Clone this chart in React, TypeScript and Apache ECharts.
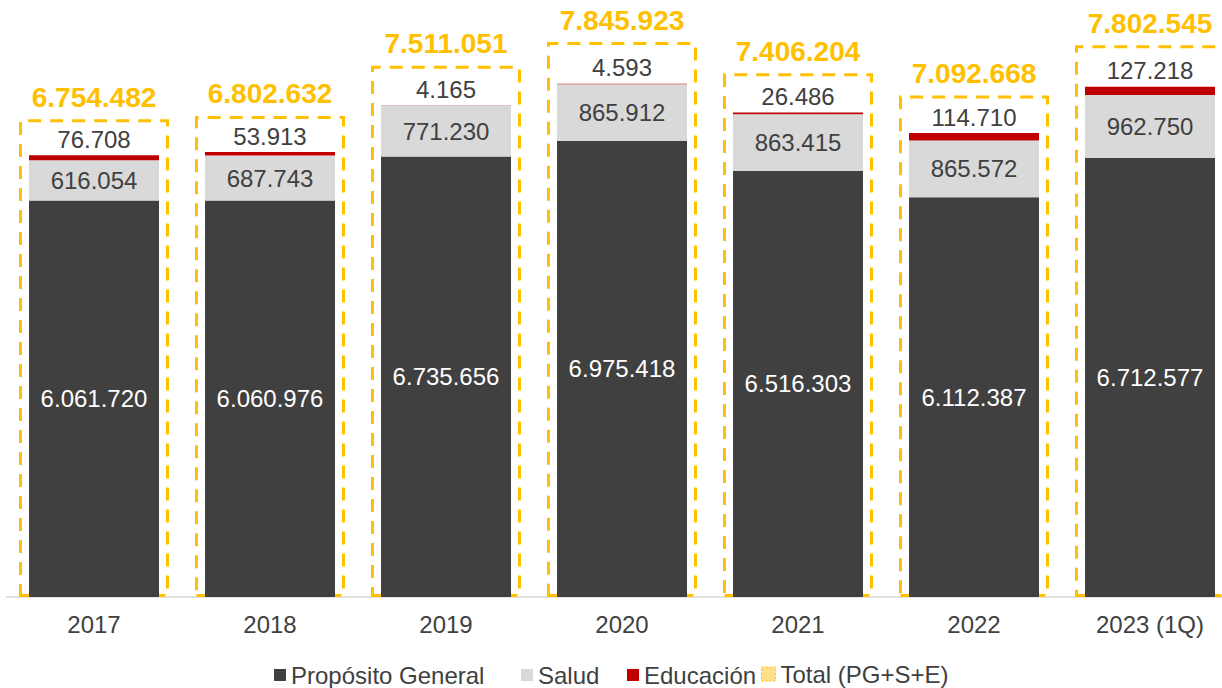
import React, { useEffect, useRef } from 'react';
import * as echarts from 'echarts';

const categories = ['2017', '2018', '2019', '2020', '2021', '2022', '2023 (1Q)'];
const proposito = [6061720, 6060976, 6735656, 6975418, 6516303, 6112387, 6712577];
const salud = [616054, 687743, 771230, 865912, 863415, 865572, 962750];
const educacion = [76708, 53913, 4165, 4593, 26486, 114710, 127218];
const total = [6754482, 6802632, 7511051, 7845923, 7406204, 7092668, 7802545];

const fmt = (v: number) => String(Math.round(v)).replace(/\B(?=(\d{3})+(?!\d))/g, '.');
const FONT = '"Liberation Sans", Arial, sans-serif';

export default function App() {
  const ref = useRef<HTMLDivElement>(null);
  useEffect(() => {
    if (!ref.current) return;
    const chart = echarts.init(ref.current, undefined, { renderer: 'svg' });
    const legendText = { fontSize: 24, color: '#404040', fontFamily: FONT };
    chart.setOption({
      animation: false,
      backgroundColor: '#ffffff',
      textStyle: { fontFamily: FONT },
      grid: { left: 6, right: 0, top: 10, bottom: 91, containLabel: false },
      legend: [
        { data: ['Propósito General'], left: 269, top: 658, itemWidth: 12, itemHeight: 12, textStyle: legendText, icon: 'rect' },
        { data: ['Salud'], left: 516, top: 658, itemWidth: 12, itemHeight: 12, textStyle: legendText, icon: 'rect' },
        { data: ['Educación'], left: 622, top: 658, itemWidth: 12, itemHeight: 12, textStyle: legendText, icon: 'rect' },
        {
          data: [{ name: 'Total (PG+S+E)', itemStyle: { color: '#FFE08A', borderColor: '#FFC000', borderWidth: 1, borderType: [2, 2] } }],
          left: 756, top: 657, itemWidth: 14, itemHeight: 14, textStyle: legendText, icon: 'rect',
        },
      ],
      xAxis: [
        {
          type: 'category',
          data: categories,
          axisLine: { lineStyle: { color: '#D9D9D9', width: 1.5 } },
          axisTick: { show: false },
          axisLabel: { fontSize: 24, color: '#404040', margin: 15, fontFamily: FONT },
        },
        { type: 'category', data: categories, show: false },
      ],
      yAxis: [
        { type: 'value', min: 0, max: 8975000, show: false, splitLine: { show: false } },
        { type: 'value', min: 0, max: 8300000, show: false, splitLine: { show: false } },
      ],
      series: [
        {
          name: 'Propósito General', type: 'bar', stack: 's', data: proposito, barWidth: 130,
          xAxisIndex: 0, yAxisIndex: 0,
          itemStyle: { color: '#404040' },
          label: { show: true, position: 'inside', color: '#ffffff', fontSize: 24, fontFamily: FONT, formatter: (p: any) => fmt(p.value) },
        },
        {
          name: 'Salud', type: 'bar', stack: 's', data: salud, barWidth: 130,
          xAxisIndex: 0, yAxisIndex: 0,
          itemStyle: { color: '#D9D9D9' },
          label: { show: true, position: 'inside', color: '#404040', fontSize: 24, fontFamily: FONT, formatter: (p: any) => fmt(p.value) },
        },
        {
          name: 'Educación', type: 'bar', stack: 's', data: educacion, barWidth: 130,
          xAxisIndex: 0, yAxisIndex: 0,
          itemStyle: { color: '#C00000' },
          label: { show: true, position: 'top', distance: 4, color: '#404040', fontSize: 24, fontFamily: FONT, formatter: (p: any) => fmt(p.value) },
        },
        {
          name: 'Total (PG+S+E)', type: 'bar', data: total, barWidth: 150,
          xAxisIndex: 1, yAxisIndex: 1, clip: false, z: 1,
          itemStyle: { color: 'rgba(255,255,255,0)', borderColor: '#FFC000', borderWidth: 3, borderType: [13, 9] },
          label: { show: true, position: 'top', distance: 8, color: '#FFC000', fontSize: 28, fontWeight: 'bold', fontFamily: FONT, formatter: (p: any) => fmt(p.value) },
        },
      ],
    });
    return () => chart.dispose();
  }, []);
  return (
    <div style={{ position: 'absolute', left: 0, top: 0, width: 1222, height: 688, overflow: 'hidden' }}>
      <div ref={ref} style={{ position: 'absolute', left: 0, top: 0, width: 1238, height: 688 }} />
    </div>
  );
}
